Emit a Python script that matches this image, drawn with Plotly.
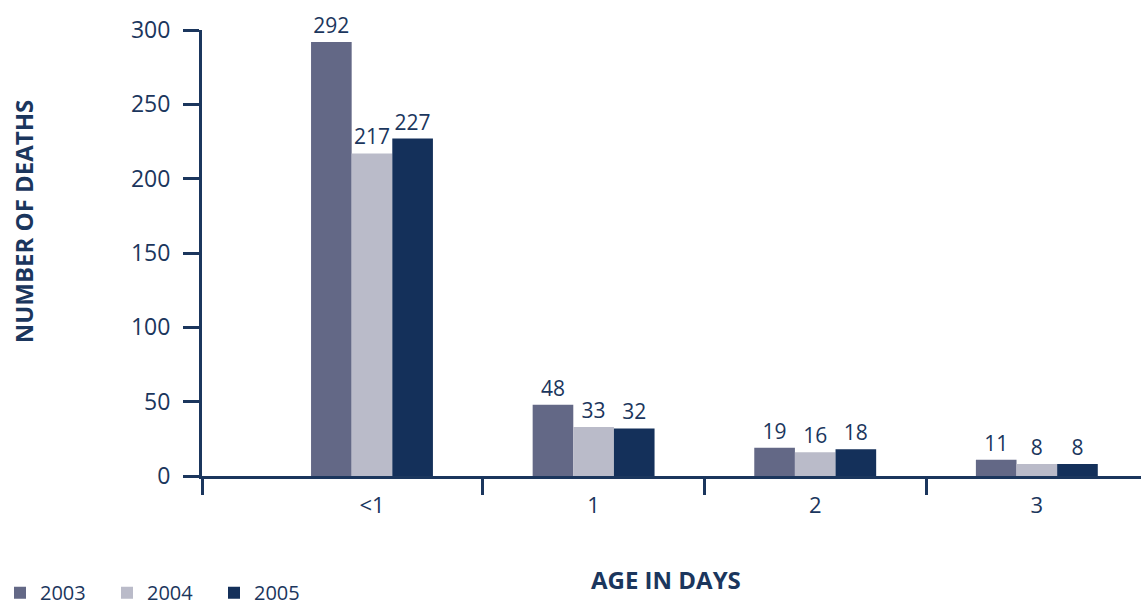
import plotly.graph_objects as go

# Neonatal deaths by age in days, three reporting years
age_labels = ["<1", "1", "2", "3"]
years = ["2003", "2004", "2005"]
deaths_2003 = [292, 48, 19, 11]
deaths_2004 = [217, 33, 16, 8]
deaths_2005 = [227, 32, 18, 8]
y_ticks = [0, 50, 100, 150, 200, 250, 300]

colors = ["#636886", "#babbc9", "#14305a"]
ink = "#1b365d"
font_family = "Open Sans, Lato, sans-serif"

x_pos = list(range(len(age_labels)))
series = [deaths_2003, deaths_2004, deaths_2005]

fig = go.Figure()
for name, vals, col in zip(years, series, colors):
    fig.add_trace(go.Bar(
        x=x_pos, y=vals, name=name,
        marker=dict(color=col, line=dict(width=0)),
        text=[str(v) for v in vals], textposition="outside",
        textfont=dict(size=21, color=ink, family=font_family),
        cliponaxis=False,
    ))

x_start = -0.767
fig.update_layout(
    width=1141, height=606,
    margin=dict(l=202, r=0, t=30, b=130, autoexpand=False),
    plot_bgcolor="white", paper_bgcolor="white",
    barmode="group", bargap=0.45, bargroupgap=0,
    font=dict(family=font_family, color=ink),
    showlegend=True,
    legend=dict(
        orientation="h", xref="container", yref="container",
        x=-0.02, xanchor="left", y=0.022, yanchor="middle",
        font=dict(size=20, color=ink, family=font_family),
        entrywidth=62, entrywidthmode="pixels", itemwidth=30,
        bgcolor="rgba(0,0,0,0)",
    ),
    xaxis=dict(
        range=[x_start, 3.47], tickvals=x_pos, ticktext=age_labels,
        ticks="", showgrid=False, zeroline=False, automargin=False,
        showline=True, linecolor=ink, linewidth=3,
        tickfont=dict(size=22, color=ink), ticklabelstandoff=8,
        minor=dict(tickvals=[x_start, 0.5, 1.5, 2.5], ticks="outside",
                   ticklen=16, tickwidth=3, tickcolor=ink, showgrid=False),
    ),
    yaxis=dict(
        range=[0, 300], tickvals=y_ticks, ticks="outside", ticklen=16,
        tickwidth=3, tickcolor=ink, showgrid=False, zeroline=False,
        showline=True, linecolor=ink, linewidth=3, automargin=False,
        tickfont=dict(size=23, color=ink), ticklabelstandoff=8,
    ),
    annotations=[
        dict(text="<b>NUMBER OF DEATHS</b>", textangle=-90, xref="paper", yref="paper",
             x=-0.19, y=0.57, xanchor="center", yanchor="middle", showarrow=False,
             font=dict(size=24, color=ink)),
        dict(text="<b>AGE IN DAYS</b>", xref="paper", yref="paper",
             x=0.494, y=-0.233, xanchor="center", yanchor="middle", showarrow=False,
             font=dict(size=24, color=ink)),
    ],
)

fig.write_html("out.html")
